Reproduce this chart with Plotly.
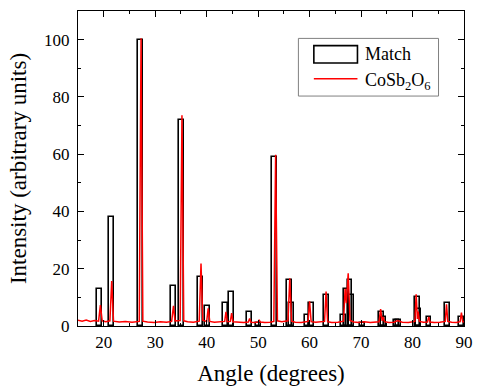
import plotly.graph_objects as go

# Match (reference pattern) sticks
match_pos = [19.25, 21.45, 27.15, 33.5, 35.05, 38.75, 40.2, 43.7, 44.75, 48.25, 50.1,
             53.25, 56.1, 56.4, 59.5, 60.3, 63.35, 66.6, 67.1, 67.85, 68.1, 70.2,
             73.9, 74.3, 76.8, 77.3, 80.9, 81.2, 83.2, 86.75, 89.5]
match_int = [13, 38, 100, 14, 72, 17, 7, 8, 12, 5, 1,
             59, 16, 8, 4, 8, 11, 4, 13, 16, 11, 1,
             5, 3, 2, 2, 10, 6, 3, 8, 3]

angle = [15, 15.8, 16.6, 17.4, 18.2, 19.0, 19.35, 19.7, 20.4, 21.2, 21.55, 21.9, 23.0, 24.2,
         25.5, 26.9, 27.25, 27.6, 28.5, 29.8, 31.0, 32.2, 33.2, 33.55, 33.85, 34.85, 35.2,
         35.55, 36.3, 37.4, 38.55, 38.9, 39.25, 40.0, 40.3, 40.6, 41.5, 42.6, 43.5, 43.75,
         44.0, 44.6, 44.85, 45.1, 46.0, 47.2, 48.1, 48.35, 48.6, 49.4, 50.0, 50.2, 50.4,
         51.3, 52.3, 53.05, 53.4, 53.75, 54.6, 55.8, 56.15, 56.5, 57.2, 58.4, 59.7, 60.0,
         60.3, 61.2, 62.9, 63.2, 63.5, 64.3, 65.5, 66.6, 66.9, 67.15, 67.5, 67.85, 68.6,
         69.5, 70.6, 71.8, 73.5, 73.8, 74.1, 74.3, 74.55, 75.4, 76.4, 77.1, 78.0, 79.2,
         80.45, 80.7, 80.95, 81.1, 81.35, 82.1, 82.9, 83.15, 83.4, 84.2, 85.3, 86.35, 86.6,
         86.85, 87.6, 88.5, 89.25, 89.5, 89.75, 90]
intensity = [2.0, 1.7, 2.1, 1.6, 1.9, 1.7, 7.3, 1.8, 1.5, 1.8, 15.7, 1.7, 1.4, 1.6,
             1.3, 1.6, 100.5, 1.7, 1.4, 1.2, 1.5, 1.3, 1.6, 7.0, 1.8, 1.9, 73.6,
             1.8, 1.5, 1.3, 1.7, 21.8, 2.0, 1.6, 6.2, 1.6, 1.3, 1.5, 1.6, 4.9,
             1.5, 1.6, 4.5, 1.5, 1.3, 1.2, 1.4, 2.6, 1.3, 1.2, 1.4, 2.2, 1.4,
             1.2, 1.3, 1.6, 59.8, 1.8, 1.5, 1.8, 16.7, 1.7, 1.3, 1.2, 1.6, 8.6,
             1.5, 1.3, 1.6, 12.0, 1.5, 1.2, 1.3, 1.7, 13.0, 8.0, 18.4, 1.9, 1.4,
             1.2, 1.5, 1.2, 1.5, 5.9, 1.8, 3.2, 1.5, 1.2, 1.3, 1.9, 1.3, 1.2,
             1.6, 11.1, 2.5, 5.0, 1.6, 1.3, 1.4, 3.2, 1.4, 1.2, 1.3, 1.6, 7.6,
             1.6, 1.3, 1.2, 1.5, 4.7, 1.5, 1.4]

FONT = "Liberation Serif"

fig = go.Figure()
fig.add_trace(go.Bar(
    x=match_pos, y=match_int, width=0.95, name="Match",
    marker=dict(color="rgba(0,0,0,0)", line=dict(color="black", width=1.6)),
    showlegend=False,
))
fig.add_trace(go.Scatter(
    x=angle, y=intensity, mode="lines", name="CoSb<sub>2</sub>O<sub>6</sub>",
    line=dict(color="#ff0000", width=1.5), showlegend=False,
))

axis_common = dict(
    showline=True, linecolor="black", linewidth=1.3, mirror="ticks",
    ticks="inside", ticklen=6, tickwidth=1.2, tickcolor="black",
    showgrid=False, zeroline=False,
    tickfont=dict(family=FONT, size=17, color="black"),
)

fig.update_xaxes(
    range=[15, 90], tick0=20, dtick=10,
    minor=dict(ticks="inside", ticklen=3, tickwidth=1.2, tickcolor="black", dtick=5),
    title=dict(text="Angle (degrees)", font=dict(family=FONT, size=23, color="black"), standoff=14),
    **axis_common,
)
fig.update_yaxes(
    range=[0, 110], tick0=0, dtick=20,
    minor=dict(ticks="inside", ticklen=3, tickwidth=1.2, tickcolor="black", dtick=10),
    title=dict(text="Intensity (arbitrary units)", font=dict(family=FONT, size=23, color="black"), standoff=10),
    ticklabelstandoff=4,
    **axis_common,
)

# Legend drawn as box + symbols
fig.add_shape(type="rect", xref="x domain", yref="y domain", x0=0.571, x1=0.934, y0=0.730, y1=0.913,
              line=dict(color="#808080", width=1), fillcolor="white", layer="above")
fig.add_shape(type="rect", xref="x domain", yref="y domain", x0=0.611, x1=0.724, y0=0.835, y1=0.890,
              line=dict(color="black", width=1.6), layer="above")
fig.add_shape(type="line", xref="x domain", yref="y domain", x0=0.611, x1=0.724, y0=0.785, y1=0.785,
              line=dict(color="#ff0000", width=1.5), layer="above")
fig.add_annotation(xref="x domain", yref="y domain", x=0.738, y=0.862, xanchor="left", yanchor="middle",
                   text="Match", showarrow=False, font=dict(family=FONT, size=18, color="black"))
fig.add_annotation(xref="x domain", yref="y domain", x=0.738, y=0.775, xanchor="left", yanchor="middle",
                   text="CoSb<sub>2</sub>O<sub>6</sub>", showarrow=False,
                   font=dict(family=FONT, size=18, color="black"))

fig.update_layout(
    width=483, height=392,
    margin=dict(l=78, r=13, t=10, b=65),
    plot_bgcolor="white", paper_bgcolor="white",
    barmode="overlay", bargap=0,
    font=dict(family=FONT, color="black"),
)

fig.write_html("out.html")
